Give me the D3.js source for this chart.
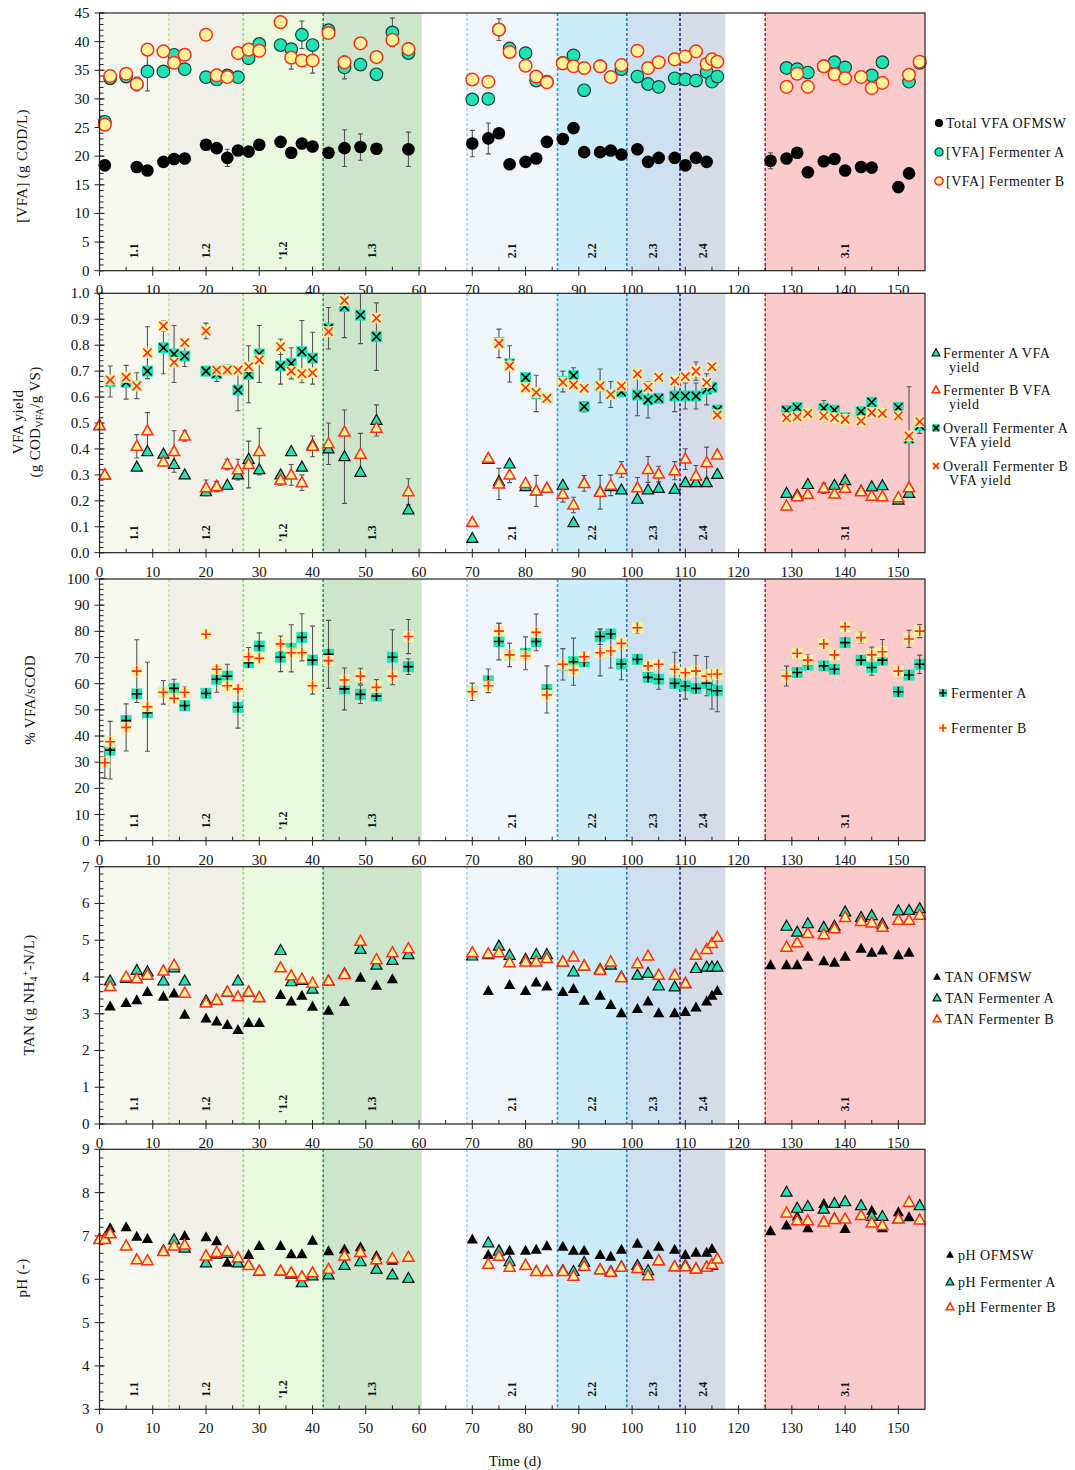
<!DOCTYPE html>
<html>
<head>
<meta charset="utf-8">
<script src="https://cdn.jsdelivr.net/npm/d3@7"></script>
<style>
  body { margin: 0; background: #fff; }
  text { font-family: "Liberation Serif", "Times New Roman", serif; fill: #111; }
</style>
</head>
<body>
<svg id="chart" width="1075" height="1470"></svg>
<script>
// ---- phases (shaded periods) ----
const phaseNames = ["1.1", "1.2", "'1.2", "1.3", "2.1", "2.2", "2.3", "2.4", "3.1"];
const phaseStart = [0, 13, 27, 42, 69, 86, 99, 109, 125];
const phaseEnd = [13, 27, 42, 60.5, 86, 99, 109, 117.5, 155];
const phaseFill = ["#f7f9f1", "#f1f0e8", "#eaf9dd", "#cde5ca", "#f0f5fa", "#cbecf8", "#cde0f0", "#d5dbe7", "#fbcaca"];
const phaseLine = [null, "#c4e0ab", "#9ccf82", "#13a24b", "#b4c8ec", "#1aa6e6", "#2f74c8", "#1b2f6e", "#e81818"];

const xTicks = d3.range(0, 151, 10);

// ---- panel 1: VFA concentration (g COD/L) [day, value, sd] ----
const vfaOFMSW = [[1,18.4],[7,18.1],[9,17.5],[12,19.0],[14,19.5],[16,19.6],[20,22.0],[22,21.4],[24,19.7,1.5],[26,21.0],[28,20.8],[30,22.0],[34,22.5],[36,20.6],[38,22.2],[40,21.7],[43,20.6],[46,21.4,3.2],[49,21.6,2.3],[52,21.3,0.6],[58,21.2,3],[70,22.2,2.3],[73,23.1,2.7],[75,24.0],[77,18.6],[80,19.0],[82,19.6],[84,22.5],[87,23.0],[89,24.9],[91,20.7],[94,20.7],[96,21.0],[98,20.3],[101,21.2],[103,19.0],[105,19.7],[108,19.7],[110,18.4],[112,19.7],[114,19.0],[126,19.2,1.4],[129,19.6],[131,20.6],[133,17.2],[136,19.1],[138,19.5],[140,17.5],[143,18.1],[145,18.0],[150,14.6],[152,17.0]];
const vfaA = [[1,26.0],[2,33.6,0.8],[5,33.9,0.6],[7,32.6,1.2],[9,34.8,3.4],[12,34.8,1],[14,37.7],[16,35.2],[20,33.8],[22,33.4],[24,34.1],[26,33.8],[28,37.1],[30,39.6],[34,39.4,0.8],[36,38.7],[38,41.2,2.4],[40,39.4],[43,42.0],[46,35.5,2],[49,36.0],[52,34.3],[55,41.6,2.5],[58,38.0],[70,29.9],[73,30.0],[75,42.1],[77,38.8],[80,38.0],[82,33.2],[84,33.0],[87,36.3],[89,37.6],[91,31.5],[94,35.7],[98,35.2],[101,33.9],[103,32.6],[105,32.1],[108,33.6],[110,33.4],[112,33.2],[114,34.7],[115,33.0],[116,33.9],[129,35.4],[131,35.2],[133,34.6],[136,35.7],[138,36.4],[140,35.5],[145,34.1],[147,36.4,1],[152,33.0],[154,36.3]];
const vfaB = [[1,25.5],[2,34.0],[5,34.4],[7,32.6],[9,38.6],[12,38.3],[14,36.3],[16,37.7],[20,41.2],[22,34.1],[24,33.8],[26,38.0],[28,38.6],[30,38.4],[34,43.4],[36,37.2,2],[38,36.7],[40,36.7,2.2],[43,41.5],[46,36.4],[49,39.7],[52,37.3],[55,40.3],[58,38.7,1.1],[70,33.4],[73,33.0],[75,42.1,1.9],[77,38.2],[80,35.8],[82,33.9],[84,32.9],[87,36.2],[89,35.7],[91,35.4],[94,35.7],[96,33.8],[98,35.9],[101,38.4],[103,35.4],[105,36.4],[108,36.9],[110,37.4],[112,38.3],[114,36.1],[115,36.9],[116,36.5],[129,32.1],[131,34.4],[133,32.1],[136,35.7],[138,34.3],[140,33.6],[143,33.8],[145,31.9],[147,32.8],[152,34.2],[154,36.5]];

// ---- panel 2: VFA yield ----
const yieldA = [[0,0.49],[1,0.30],[7,0.33],[9,0.39],[12,0.38],[14,0.34],[16,0.30],[20,0.235],[22,0.255],[24,0.26],[26,0.30],[28,0.36],[30,0.32],[34,0.30],[36,0.39],[38,0.33],[40,0.415],[43,0.40],[46,0.37,0.18],[49,0.31],[52,0.51,0.06],[58,0.165],[70,0.055],[73,0.36],[75,0.274],[77,0.342],[80,0.255],[82,0.238],[84,0.248],[87,0.26],[89,0.116],[91,0.267],[94,0.235],[96,0.255],[98,0.242],[101,0.206],[103,0.242],[105,0.248],[108,0.244],[110,0.27],[112,0.27],[114,0.27],[116,0.302],[129,0.229],[131,0.222],[133,0.263],[136,0.248],[138,0.26],[140,0.278],[143,0.238],[145,0.254],[147,0.258],[150,0.203],[152,0.229]];
const yieldB = [[0,0.49],[1,0.30],[7,0.41,0.045],[9,0.47,0.07],[12,0.35],[14,0.39,0.08],[16,0.45,0.02],[20,0.25,0.03],[22,0.255,0.02],[24,0.34,0.02],[26,0.32,0.04],[28,0.34,0.09],[30,0.39,0.09],[34,0.28,0.02],[36,0.30,0.04],[38,0.27,0.03],[40,0.41,0.04],[43,0.42,0.08],[46,0.465],[49,0.38,0.08],[52,0.48],[58,0.235,0.05],[70,0.117],[73,0.364],[75,0.265,0.06],[77,0.30,0.03],[80,0.267],[82,0.238,0.06],[84,0.248],[87,0.225,0.03],[89,0.184,0.03],[91,0.267,0.03],[94,0.233,0.065],[96,0.26,0.04],[98,0.321,0.03],[101,0.25,0.04],[103,0.321,0.05],[105,0.303,0.03],[108,0.316,0.035],[110,0.361,0.04],[112,0.296,0.04],[114,0.347,0.06],[116,0.377],[129,0.18],[131,0.216],[133,0.225],[136,0.248,0.02],[138,0.226],[140,0.248],[143,0.235],[145,0.218],[147,0.216],[150,0.212],[152,0.25]];
const overallA = [[2,0.66,0.06],[5,0.657,0.065],[7,0.644,0.05],[9,0.70],[12,0.79,0.1],[14,0.766,0.11],[16,0.758,0.04],[20,0.70],[22,0.69,0.03],[24,0.705],[26,0.627,0.08],[28,0.688,0.11],[30,0.766,0.11],[34,0.72,0.07],[36,0.73,0.06],[38,0.775,0.12],[40,0.75,0.1],[43,0.865,0.08],[46,0.949,0.12],[49,0.916,0.11],[52,0.833,0.13],[75,0.81],[77,0.728,0.07],[80,0.675],[82,0.614,0.07],[84,0.595],[87,0.66,0.04],[89,0.683,0.03],[91,0.563,0.02],[94,0.643],[96,0.61],[98,0.62],[101,0.608,0.08],[103,0.589,0.07],[105,0.595],[108,0.604,0.06],[110,0.604,0.05],[112,0.604,0.05],[114,0.63,0.06],[115,0.638],[116,0.55],[129,0.548],[131,0.56],[133,0.537],[136,0.557,0.03],[138,0.55],[140,0.52],[143,0.544],[145,0.58],[147,0.537],[150,0.56],[152,0.44,0.2],[154,0.49,0.03]];
const overallB = [[2,0.666],[5,0.676],[7,0.643],[9,0.771,0.1],[12,0.874,0.02],[14,0.734],[16,0.81],[20,0.855,0.03],[22,0.704],[24,0.704],[26,0.704],[28,0.717],[30,0.743],[34,0.794,0.03],[36,0.70],[38,0.69],[40,0.694],[43,0.852],[46,0.972],[52,0.904],[75,0.807,0.055],[77,0.72],[80,0.636],[82,0.618],[84,0.595],[87,0.657],[89,0.647],[91,0.634],[94,0.643,0.065],[96,0.61,0.05],[98,0.643],[101,0.689],[103,0.638],[105,0.676],[108,0.662],[110,0.679],[112,0.70,0.035],[114,0.656],[115,0.717],[116,0.531],[129,0.52],[131,0.524],[133,0.537],[136,0.527],[138,0.52],[140,0.514],[143,0.508],[145,0.54],[147,0.537],[150,0.527],[152,0.45],[154,0.505]];

// ---- panel 3: % VFA/sCOD ----
const scodA = [[1,29.8,6],[2,34.6,11],[5,45.9],[7,56.1],[9,48.9],[12,56.7],[14,58.2,3.5],[16,51.6],[20,56.3],[22,61.7,5],[24,62.9,4.5],[26,51.0,8],[28,68.0],[30,74.4,5],[34,70.1,5.5],[36,73.5,9],[38,77.7,9],[40,69.0,13],[43,71.2,13],[46,58.0,8],[49,55.9,3.5],[52,55.3],[55,70.1,10.5],[58,66.5,3],[70,57.0],[73,61.1,4.5],[75,76.1,7],[77,71.0],[80,71.6,6.3],[82,76.1],[84,57.8,9],[87,67.1],[89,68.4,9],[91,68.4],[94,78.0,3],[96,79.0],[98,67.5,6],[101,69.3],[103,62.4],[105,61.7,3.8],[108,60.1],[110,59.1,5],[112,58.2],[114,60.1],[115,57.8,7.5],[116,57.3,8],[129,63.0],[131,64.3],[133,67.1],[136,66.8],[138,65.5],[140,75.7],[143,69.0],[145,66.2,3],[147,69.0],[150,56.9],[152,63.3,1.5],[154,67.4,3.5]];
const scodB = [[1,29.8],[2,37.8],[5,43.3,9],[7,64.8,12],[9,51.2,17],[12,56.7,4.5],[14,54.4],[16,56.7,2],[20,78.9],[22,65.5],[24,59.2],[26,58.0],[28,70.3,3.5],[30,69.7],[34,75.2,3],[36,71.8],[38,71.8],[40,59.2],[43,68.8],[46,61.4],[49,62.9,3],[52,58.6,3],[55,62.9],[58,78.0,6.5],[70,56.9,3.3],[73,59.2],[75,80.1,3],[77,71.0,4.5],[80,70.6],[82,79.6,7],[84,55.7],[87,67.4,6],[89,65.2],[91,70.3,2],[94,71.8,8.8],[96,72.5,6.5],[98,75.4],[101,81.4,2],[103,66.8],[105,67.4],[108,65.5,6.5],[110,64.2],[112,64.8,6],[114,62.9,7.5],[115,63.6],[116,63.7],[129,62.9,3.8],[131,71.6],[133,69.0,2],[136,75.2],[138,71.0],[140,81.8],[143,77.6,2],[145,71.0,3],[147,72.2,4.7],[150,64.8],[152,77.1,3.3],[154,80.1,2.5]];

// ---- panel 4: TAN ----
const tanOFMSW = [[2,3.20],[5,3.29],[7,3.37],[9,3.59],[12,3.46],[14,3.55],[16,2.97],[20,2.87],[22,2.79],[24,2.69],[26,2.56],[28,2.75],[30,2.75],[34,3.51],[36,3.33],[38,3.49],[40,3.19],[43,3.08],[46,3.32],[49,3.98],[52,3.76],[55,3.94],[73,3.62],[77,3.78],[80,3.62],[82,3.85],[84,3.74],[87,3.59],[89,3.67],[91,3.35],[94,3.49],[96,3.24],[98,3.01],[101,3.13],[103,3.33],[105,3.01],[108,3.01],[110,3.05],[112,3.17],[114,3.33],[115,3.49],[116,3.62],[126,4.32],[129,4.32],[131,4.32],[133,4.55],[136,4.43],[138,4.39],[140,4.55],[143,4.77],[145,4.66],[147,4.72],[150,4.59],[152,4.66]];
const tanA = [[2,3.89],[5,3.96],[7,4.18],[9,4.14],[12,3.89],[14,4.25],[16,3.89],[20,3.35],[22,3.37],[24,3.59],[26,3.89],[28,3.59],[30,3.44],[34,4.72],[36,3.87],[38,3.91],[40,3.67],[43,3.89],[46,4.09],[49,4.75],[52,4.32],[55,4.45],[58,4.61],[70,4.57],[73,4.61],[75,4.84],[77,4.59],[80,4.48],[82,4.61],[84,4.61],[87,4.41],[89,4.14],[91,4.30],[94,4.21],[96,4.32],[98,4.0],[101,4.05],[103,4.10],[105,3.76],[108,3.73],[110,3.82],[112,4.23],[114,4.27],[115,4.27],[116,4.27],[129,5.38],[131,5.22],[133,5.45],[136,5.35],[138,5.38],[140,5.77],[143,5.62],[145,5.67],[147,5.44],[150,5.80],[152,5.81],[154,5.86]];
const tanB = [[2,3.74],[5,4.0],[7,3.95],[9,4.05],[12,4.16],[14,4.32],[16,3.56],[20,3.29],[22,3.37],[24,3.59],[26,3.46],[28,3.59],[30,3.44],[34,4.25],[36,4.03],[38,3.94],[40,3.83],[43,3.89],[46,4.07],[49,4.97],[52,4.47],[55,4.66],[58,4.77],[70,4.66],[73,4.63],[75,4.66],[77,4.39],[80,4.41],[82,4.41],[84,4.50],[87,4.41],[89,4.54],[91,4.30],[94,4.18],[96,4.41],[98,3.98],[101,4.36],[103,4.57],[105,4.05],[108,4.05],[110,3.82],[112,4.59],[114,4.75],[115,4.91],[116,5.08],[129,4.81],[131,4.93],[133,5.18],[136,5.15],[138,5.31],[140,5.62],[143,5.51],[145,5.47],[147,5.35],[150,5.54],[152,5.54],[154,5.68]];

// ---- panel 5: pH ----
const phOFMSW = [[0,6.93],[2,7.18],[5,7.2],[7,6.98],[9,6.93],[12,6.68],[14,6.92],[16,7.0],[20,6.97],[22,6.88],[24,6.38],[26,6.48],[28,6.56],[30,6.77],[34,6.77],[36,6.58],[38,6.58],[40,6.89],[43,6.65],[46,6.69],[49,6.74],[52,6.54],[55,6.43],[70,6.92],[73,6.56],[75,6.68],[77,6.66],[80,6.66],[82,6.68],[84,6.76],[87,6.75],[89,6.66],[91,6.66],[94,6.56],[96,6.52],[98,6.68],[101,6.82],[103,6.56],[105,6.75],[108,6.68],[110,6.56],[112,6.61],[114,6.61],[115,6.70],[126,7.11],[129,7.24],[131,7.45],[133,7.18],[136,7.74],[138,7.42],[140,7.16],[145,7.58],[147,7.18],[150,7.55],[152,7.43]];
const phA = [[0,6.92],[1,6.95],[2,7.06],[12,6.65],[14,6.91],[16,6.72],[20,6.38],[22,6.58],[24,6.6],[26,6.38],[28,6.32],[30,6.19],[34,6.19],[36,6.12],[38,5.92],[40,6.08],[43,6.10],[46,6.32],[49,6.41],[52,6.23],[55,6.10],[58,6.02],[73,6.84],[75,6.65],[77,6.41],[80,6.32],[82,6.18],[84,6.18],[87,6.2],[89,6.18],[91,6.39],[94,6.22],[96,6.18],[98,6.29],[101,6.32],[103,6.2],[105,6.43],[108,6.29],[110,6.32],[112,6.24],[114,6.28],[115,6.32],[129,8.01],[131,7.64],[133,7.68],[136,7.62],[138,7.75],[140,7.79],[143,7.7],[145,7.45],[147,7.45],[150,7.4],[154,7.7]];
const phB = [[0,6.92],[1,6.92],[2,7.05],[5,6.77],[7,6.45],[9,6.43],[12,6.64],[14,6.77],[16,6.79],[20,6.54],[22,6.62],[24,6.64],[26,6.5],[28,6.32],[30,6.19],[34,6.19],[36,6.15],[38,6.06],[40,6.15],[43,6.23],[46,6.54],[49,6.62],[52,6.45],[55,6.48],[58,6.51],[73,6.35],[75,6.53],[77,6.28],[80,6.32],[82,6.18],[84,6.18],[87,6.18],[89,6.07],[91,6.3],[94,6.22],[96,6.16],[98,6.28],[101,6.25],[103,6.08],[105,6.43],[108,6.29],[110,6.29],[112,6.24],[114,6.28],[115,6.34],[116,6.47],[129,7.53],[131,7.35],[133,7.35],[136,7.32],[138,7.38],[140,7.39],[143,7.47],[145,7.3],[147,7.24],[150,7.39],[152,7.78],[154,7.37]];

// colours
const TEAL = "#1fe3b4", YELLOW = "#fff49a", RED = "#ff2d1a";

const svg = d3.select("#chart");
const x = d3.scaleLinear().domain([0, 155]).range([99.5, 925]);

// marker painter
function marker(g, type, s) {
  s = s || 1;
  const tri = `M0,${-6*s}L${5.6*s},${4*s}L${-5.6*s},${4*s}Z`;
  if (type == "dot") g.append("circle").attr("r", 6.3*s).attr("fill", "#000");
  else if (type == "dotA") g.append("circle").attr("r", 6.3*s).attr("fill", TEAL).attr("stroke", "#12413a").attr("stroke-width", 1.2);
  else if (type == "dotB") g.append("circle").attr("r", 6.3*s).attr("fill", YELLOW).attr("stroke", RED).attr("stroke-width", 1.5);
  else if (type == "tri") g.append("path").attr("d", tri).attr("fill", "#000");
  else if (type == "triA") g.append("path").attr("d", tri).attr("fill", TEAL).attr("stroke", "#111").attr("stroke-width", 1.2);
  else if (type == "triB") g.append("path").attr("d", tri).attr("fill", YELLOW).attr("stroke", RED).attr("stroke-width", 1.5);
  else if (type == "xA" || type == "xB" || type == "plusA" || type == "plusB") {
    const isA = type.endsWith("A");
    const h = 5.5*s;
    g.append("rect").attr("x", -h).attr("y", -h).attr("width", 2*h).attr("height", 2*h)
      .attr("fill", isA ? TEAL : YELLOW).attr("opacity", isA ? 1 : 0.9);
    const k = 4.2*s;
    const d = type.startsWith("x") ? `M${-k},${-k}L${k},${k}M${-k},${k}L${k},${-k}` : `M${-k-0.8},0H${k+0.8}M0,${-k-0.8}V${k+0.8}`;
    g.append("path").attr("d", d).attr("stroke", isA ? "#000" : RED).attr("stroke-width", 1.6).attr("fill", "none");
  }
}

const panels = [
  { top: 13, bottom: 270.7, domain: [0, 45], step: 5, minor: 1, fmt: d3.format("d"),
    series: [[vfaOFMSW, "dot"], [vfaA, "dotA"], [vfaB, "dotB"]],
    legend: { mx: 939, tx: 946, items: [["dot", ["Total VFA OFMSW"], 123], ["dotA", ["[VFA] Fermenter A"], 152], ["dotB", ["[VFA] Fermenter B"], 181]] } },
  { top: 293.3, bottom: 552.7, domain: [0, 1], step: 0.1, minor: 0.02, fmt: d3.format(".1f"),
    series: [[yieldA, "triA"], [yieldB, "triB"], [overallA, "xA"], [overallB, "xB"]],
    legend: { mx: 936, tx: 943, items: [["triA", ["Fermenter A VFA", "yield"], 353], ["triB", ["Fermenter B VFA", "yield"], 390], ["xA", ["Overall Fermenter A", "VFA yield"], 428], ["xB", ["Overall Fermenter B", "VFA yield"], 466]] } },
  { top: 579, bottom: 840.7, domain: [0, 100], step: 10, minor: 2, fmt: d3.format("d"),
    series: [[scodA, "plusA"], [scodB, "plusB"]],
    legend: { mx: 943, tx: 951, items: [["plusA", ["Fermenter A"], 693], ["plusB", ["Fermenter B"], 728]] } },
  { top: 866.7, bottom: 1124, domain: [0, 7], step: 1, minor: 0.2, fmt: d3.format("d"),
    series: [[tanOFMSW, "tri"], [tanA, "triA"], [tanB, "triB"]],
    legend: { mx: 937, tx: 945, items: [["tri", ["TAN OFMSW"], 977], ["triA", ["TAN Fermenter A"], 998], ["triB", ["TAN Fermenter B"], 1019]] } },
  { top: 1149.3, bottom: 1409.3, domain: [3, 9], step: 1, minor: 0.2, fmt: d3.format("d"),
    series: [[phOFMSW, "tri"], [phA, "triA"], [phB, "triB"]],
    legend: { mx: 950, tx: 958, items: [["tri", ["pH OFMSW"], 1255], ["triA", ["pH Fermenter A"], 1282], ["triB", ["pH Fermenter B"], 1307]] } }
];

panels.forEach((p, pi) => {
  const y = d3.scaleLinear().domain(p.domain).range([p.bottom, p.top]);
  const g = svg.append("g");
  const x0 = x.range()[0], x1 = x.range()[1];

  // white backdrop (hides the previous panel's overflowing labels)
  g.append("rect").attr("x", x0).attr("y", p.top).attr("width", x1 - x0).attr("height", p.bottom - p.top).attr("fill", "#fff");

  // shaded phases
  g.selectAll(null).data(phaseNames).join("rect")
    .attr("x", (d, i) => x(phaseStart[i]))
    .attr("y", p.top)
    .attr("width", (d, i) => x(phaseEnd[i]) - x(phaseStart[i]))
    .attr("height", p.bottom - p.top)
    .attr("fill", (d, i) => phaseFill[i]);

  g.selectAll(null).data(phaseNames.map((d, i) => i).filter(i => phaseLine[i])).join("line")
    .attr("x1", i => x(phaseStart[i])).attr("x2", i => x(phaseStart[i]))
    .attr("y1", p.top).attr("y2", p.bottom)
    .attr("stroke", i => phaseLine[i]).attr("stroke-width", 1.6)
    .attr("stroke-dasharray", "3,2");

  g.selectAll(null).data(phaseNames).join("text")
    .attr("transform", (d, i) => `translate(${x((phaseStart[i] + phaseEnd[i]) / 2) + 4},${p.bottom - 20}) rotate(-90)`)
    .attr("text-anchor", "middle")
    .attr("font-size", 12).attr("font-weight", "bold")
    .text(d => d);

  // y ticks
  const minorTicks = d3.range(p.domain[0], p.domain[1] + p.minor / 2, p.minor);
  g.selectAll(null).data(minorTicks).join("line")
    .attr("x1", x0).attr("x2", x0 + 4)
    .attr("y1", d => y(d)).attr("y2", d => y(d))
    .attr("stroke", "#222");
  const majorTicks = d3.range(p.domain[0], p.domain[1] + p.step / 2, p.step);
  g.selectAll(null).data(majorTicks).join("line")
    .attr("x1", x0 - 5).attr("x2", x0 + 5)
    .attr("y1", d => y(d)).attr("y2", d => y(d))
    .attr("stroke", "#222");
  g.selectAll(null).data(majorTicks).join("text")
    .attr("x", x0 - 10).attr("y", d => y(d) + 5)
    .attr("text-anchor", "end").attr("font-size", 15)
    .text(d => p.fmt(d));

  // x ticks
  const xMinor = d3.range(5, 155, 10);
  g.selectAll(null).data(xMinor).join("line")
    .attr("x1", d => x(d)).attr("x2", d => x(d))
    .attr("y1", p.bottom - 4).attr("y2", p.bottom)
    .attr("stroke", "#222");
  g.selectAll(null).data(xTicks).join("line")
    .attr("x1", d => x(d)).attr("x2", d => x(d))
    .attr("y1", p.bottom - 4).attr("y2", p.bottom + 5)
    .attr("stroke", "#222");
  g.selectAll(null).data(xTicks).join("text")
    .attr("x", d => x(d)).attr("y", p.bottom + 24)
    .attr("text-anchor", "middle").attr("font-size", 15)
    .text(d => d);

  // error bars (clipped) then markers
  const clipId = "clip" + pi;
  svg.append("clipPath").attr("id", clipId).append("rect")
    .attr("x", x0).attr("y", p.top).attr("width", x1 - x0).attr("height", p.bottom - p.top);
  const eg = g.append("g").attr("clip-path", `url(#${clipId})`);
  p.series.forEach(([data]) => {
    eg.selectAll(null).data(data.filter(d => d[2] != null)).join("path")
      .attr("d", d => {
        const cx = x(d[0]), ya = y(d[1] - d[2]), yb = y(d[1] + d[2]);
        return `M${cx},${ya}V${yb}M${cx - 2.5},${ya}H${cx + 2.5}M${cx - 2.5},${yb}H${cx + 2.5}`;
      })
      .attr("stroke", "#555").attr("stroke-width", 1.1).attr("fill", "none");
  });
  p.series.forEach(([data, type]) => {
    g.selectAll(null).data(data).join("g")
      .attr("transform", d => `translate(${x(d[0])},${y(d[1])})`)
      .each(function () { marker(d3.select(this), type); });
  });

  // frame
  g.append("rect").attr("x", x0).attr("y", p.top).attr("width", x1 - x0).attr("height", p.bottom - p.top)
    .attr("fill", "none").attr("stroke", "#222").attr("stroke-width", 1.2);

  // legend
  p.legend.items.forEach(([type, lines, ly]) => {
    const mg = svg.append("g").attr("transform", `translate(${p.legend.mx},${ly})`);
    marker(mg, type, type.startsWith("dot") ? 0.65 : 0.7);
    lines.forEach((t, li) => {
      svg.append("text").attr("x", p.legend.tx + (li ? 6 : 0)).attr("y", ly + 4.5 + li * 14.5)
        .attr("font-size", 14).attr("letter-spacing", 0.5).text(t);
    });
  });
});

// axis titles
function yTitle(cx, cy) {
  return svg.append("text").attr("transform", `translate(${cx},${cy}) rotate(-90)`)
    .attr("text-anchor", "middle").attr("font-size", 15).attr("letter-spacing", 0.3);
}
yTitle(27, 166).text("[VFA] (g COD/L)");
yTitle(23, 422).text("VFA yield");
const t2 = yTitle(40, 422);
t2.append("tspan").text("(g COD");
t2.append("tspan").attr("font-size", 10).attr("dy", 3).text("VFA");
t2.append("tspan").attr("dy", -3).text("/g VS)");
yTitle(35, 700).text("% VFA/sCOD");
const t4 = yTitle(34, 995);
t4.append("tspan").text("TAN (g NH");
t4.append("tspan").attr("font-size", 10).attr("dy", 3).text("4");
t4.append("tspan").attr("font-size", 10).attr("dy", -8).text("+");
t4.append("tspan").attr("dy", 5).text("-N/L)");
yTitle(27, 1278).text("pH (-)");

svg.append("text").attr("x", 515).attr("y", 1466).attr("text-anchor", "middle")
  .attr("font-size", 15).text("Time (d)");
</script>
</body>
</html>
